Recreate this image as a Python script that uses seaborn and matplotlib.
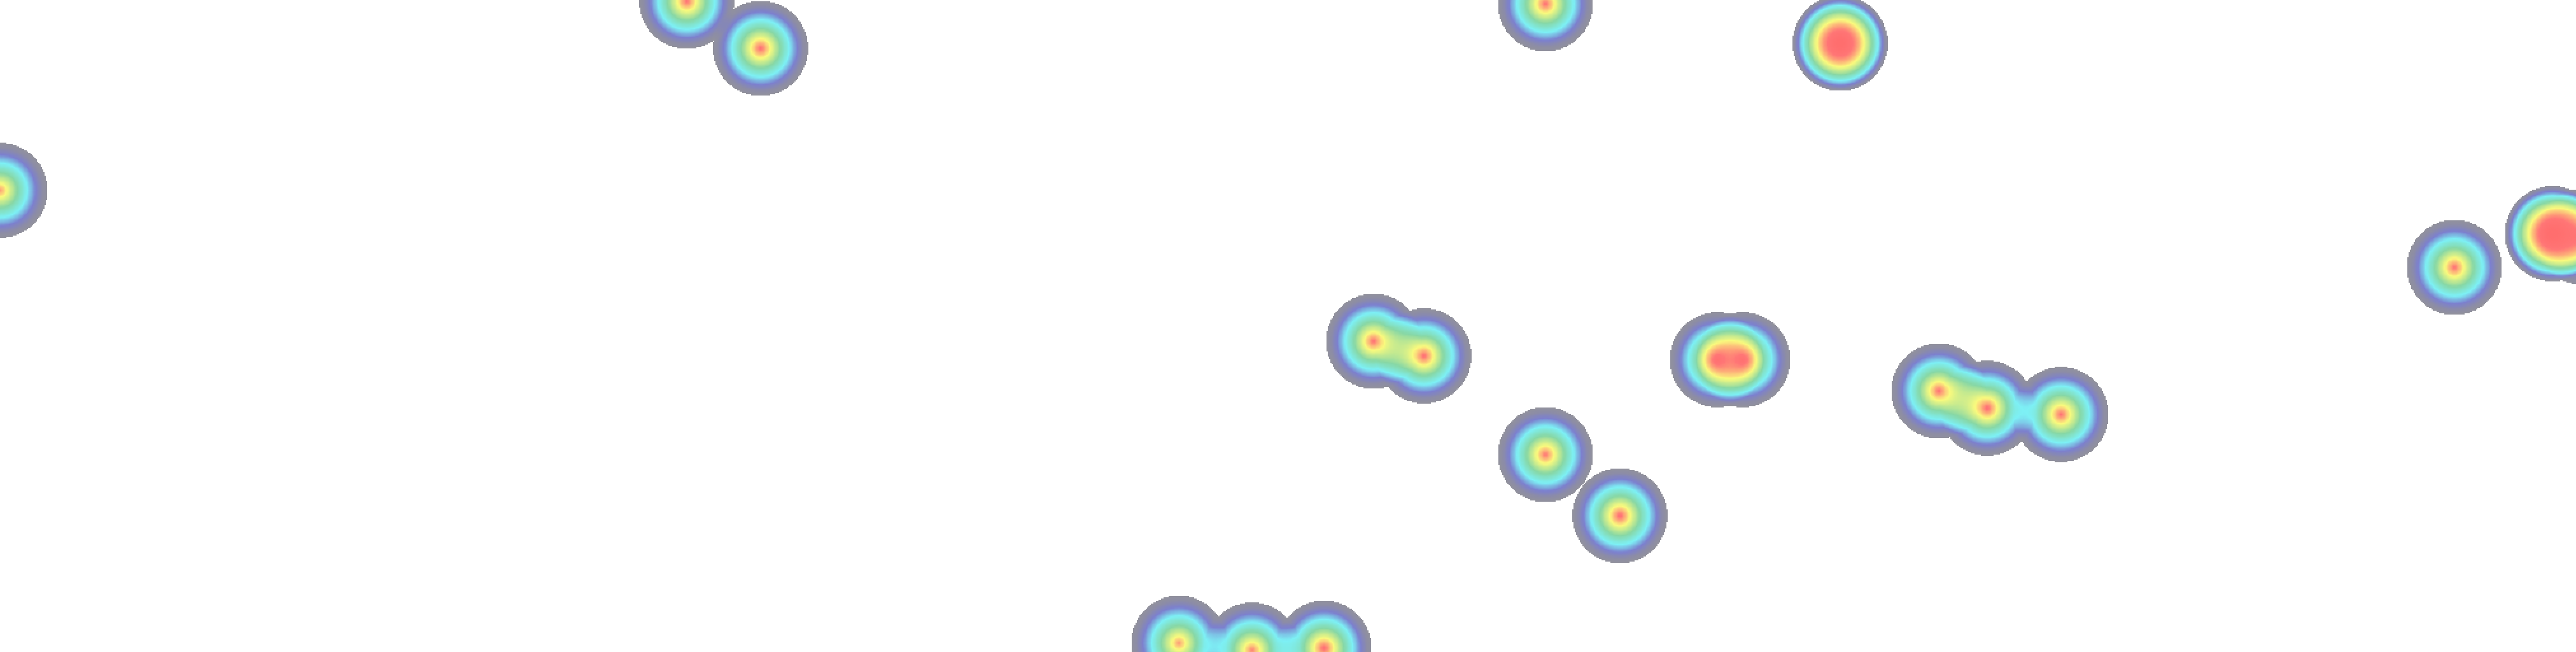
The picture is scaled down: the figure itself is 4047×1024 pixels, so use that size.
"""
Point-intensity heatmap (heatmap.js style) redrawn with seaborn.
"""

import matplotlib

matplotlib.use("Agg")
import matplotlib.pyplot as plt  # type: ignore
import numpy as np  # type: ignore
import seaborn as sns  # type: ignore
from matplotlib.colors import LinearSegmentedColormap  # type: ignore

# data points (pixel coords, intensity 0..1)
point_x = [1079, 1195, 0, 2428, 2891, 2891, 2158, 2237, 2698, 2738, 3046,
           3122, 3238, 2428, 2545, 3856, 4010, 4010, 4055, 1852, 1967, 2080]
point_y = [2, 76, 299, 6, 68, 68, 536, 559, 565, 565, 614,
           641, 651, 714, 810, 420, 367, 367, 372, 1010, 1021, 1018]
point_value = [0.94, 0.95, 0.88, 0.94, 1.0, 1.0, 0.94, 0.95, 0.97, 0.97, 0.94,
               0.96, 0.94, 0.93, 0.96, 0.94, 1.0, 1.0, 0.9, 0.88, 0.91, 0.96]

WIDTH, HEIGHT = 4048, 1024
RADIUS = 75
CELL = 2

# colours as they appear over the white page
stops = [
    (0.00, (146, 146, 156)),
    (0.10, (140, 140, 166)),
    (0.22, (124, 128, 206)),
    (0.38, (125, 240, 245)),
    (0.56, (135, 215, 165)),
    (0.76, (250, 250, 125)),
    (0.93, (255, 118, 118)),
    (1.00, (255, 110, 110)),
]


def build_density():
    """Accumulate the alpha of every point like a canvas would"""

    cx = np.arange(0, WIDTH, CELL) + CELL / 2
    cy = np.arange(0, HEIGHT, CELL) + CELL / 2
    gx, gy = np.meshgrid(cx, cy)
    keep = np.ones_like(gx)
    for x, y, v in zip(point_x, point_y, point_value):
        d = np.hypot(gx - x, gy - y)
        a = v * np.clip(1 - d / RADIUS, 0, 1)
        keep *= 1 - a
    return 1 - keep


def main():
    dens = build_density()
    cmap = LinearSegmentedColormap.from_list(
        "heat", [(p, tuple(c / 255 for c in rgb)) for p, rgb in stops], N=256
    )

    sns.set_theme(style="white")
    fig = plt.figure(figsize=(WIDTH / 100, HEIGHT / 100), dpi=100)
    ax = fig.add_axes([0, 0, 1, 1])
    sns.heatmap(
        dens,
        mask=dens < 1 / 255,
        cmap=cmap,
        vmin=0,
        vmax=1,
        cbar=False,
        xticklabels=False,
        yticklabels=False,
        ax=ax,
        rasterized=True,
    )
    ax.set_axis_off()
    fig.savefig("out.png", dpi=100, facecolor="white")


if __name__ == "__main__":
    main()
